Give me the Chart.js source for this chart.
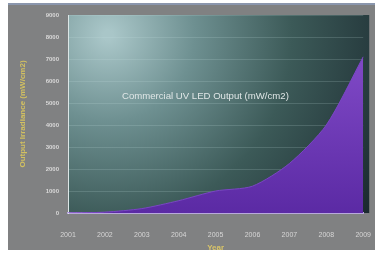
<!DOCTYPE html>
<html>
<head>
<meta charset="utf-8">
<script src="https://cdn.jsdelivr.net/npm/chart.js@4"></script>
<style>
  html, body { margin: 0; padding: 0; background: #ffffff; }
  #wrap { width: 381px; height: 265px; }
</style>
</head>
<body>
<div id="wrap"><canvas id="uvChart" width="381" height="265"></canvas></div>
<script>
// datos
const years = ["2001", "2002", "2003", "2004", "2005", "2006", "2007", "2008", "2009"];
const outputValues = [0, 40, 200, 560, 1000, 1220, 2250, 4000, 7100];
const yTicks = [0, 1000, 2000, 3000, 4000, 5000, 6000, 7000, 8000, 9000];
const innerLabel = "Commercial UV LED Output (mW/cm2)";

// fondo gris y degradado del area de grafico
const backgroundPlugin = {
    id: "panelBackground",
    beforeDraw(chart) {
        const ctx = chart.ctx;
        const area = chart.chartArea;
        ctx.save();
        ctx.fillStyle = "#ffffff";
        ctx.fillRect(0, 0, chart.width, chart.height);
        ctx.fillStyle = "#808182";
        ctx.fillRect(8, 4, 367, 246);
        ctx.fillStyle = "#8a96ad";
        ctx.fillRect(8, 3, 367, 2);

        const grad = ctx.createRadialGradient(area.left + 40, area.top + 20, 5, area.left + 40, area.top + 20, 330);
        grad.addColorStop(0, "#a9c6c8");
        grad.addColorStop(0.25, "#6e9091");
        grad.addColorStop(0.55, "#3c5a58");
        grad.addColorStop(1, "#16232a");
        ctx.fillStyle = grad;
        ctx.fillRect(area.left, area.top, area.right - area.left + 6, area.bottom - area.top);
        ctx.restore();
    },
    afterDatasetsDraw(chart) {
        const ctx = chart.ctx;
        const area = chart.chartArea;
        ctx.save();
        ctx.font = "9.6px 'Liberation Sans', Arial, sans-serif";
        ctx.fillStyle = "#dfe6e6";
        ctx.textBaseline = "middle";
        ctx.fillText(innerLabel, area.left + 54, area.top + 81);
        ctx.restore();
    }
};

const ctx = document.getElementById("uvChart").getContext("2d");
const chart = new Chart(ctx, {
    type: "line",
    data: {
        labels: years,
        datasets: [{
            label: innerLabel,
            data: outputValues,
            fill: "origin",
            backgroundColor: (c) => {
                const a = c.chart.chartArea;
                if (!a) return "#6a36b2";
                const g = c.chart.ctx.createLinearGradient(0, a.top, 0, a.bottom);
                g.addColorStop(0, "#8a52d0");
                g.addColorStop(1, "#5b2aa4");
                return g;
            },
            borderColor: "#7a46c4",
            borderWidth: 1,
            pointRadius: 0,
            tension: 0.25
        }]
    },
    options: {
        responsive: false,
        animation: false,
        layout: { padding: { left: 10, right: 16, top: 15, bottom: 12 } },
        plugins: {
            legend: { display: false },
            tooltip: { enabled: false }
        },
        scales: {
            x: {
                grid: { display: false },
                border: { display: true, color: "#b8a8dc", width: 2 },
                ticks: {
                    color: "#d6d6d6",
                    font: { size: 7, family: "'Liberation Sans', Arial, sans-serif" },
                    padding: 10,
                    maxRotation: 0,
                    autoSkip: false
                },
                title: {
                    display: true,
                    text: "Year",
                    color: "#d8c468",
                    font: { size: 8, weight: "bold", family: "'Liberation Sans', Arial, sans-serif" },
                    padding: { top: 4, bottom: 0 }
                },
                afterFit(scale) { scale.height = 40; }
            },
            y: {
                min: 0,
                max: 9000,
                afterBuildTicks(scale) { scale.ticks = yTicks.map(v => ({ value: v })); },
                grid: { color: "rgba(200,225,225,0.18)", drawTicks: false },
                border: { display: true, color: "#dce6e6", width: 1 },
                ticks: {
                    color: "#d9d9d9",
                    font: { size: 6, weight: "bold", family: "'Liberation Sans', Arial, sans-serif" },
                    padding: 9,
                    callback: (v) => String(v)
                },
                title: {
                    display: true,
                    text: "Output Irradiance (mW/cm2)",
                    color: "#d2c060",
                    font: { size: 8, weight: "bold", family: "'Liberation Sans', Arial, sans-serif" },
                    padding: { top: 8, bottom: 0 }
                },
                afterFit(scale) { scale.width = 58; }
            }
        }
    },
    plugins: [backgroundPlugin]
});
</script>
</body>
</html>
